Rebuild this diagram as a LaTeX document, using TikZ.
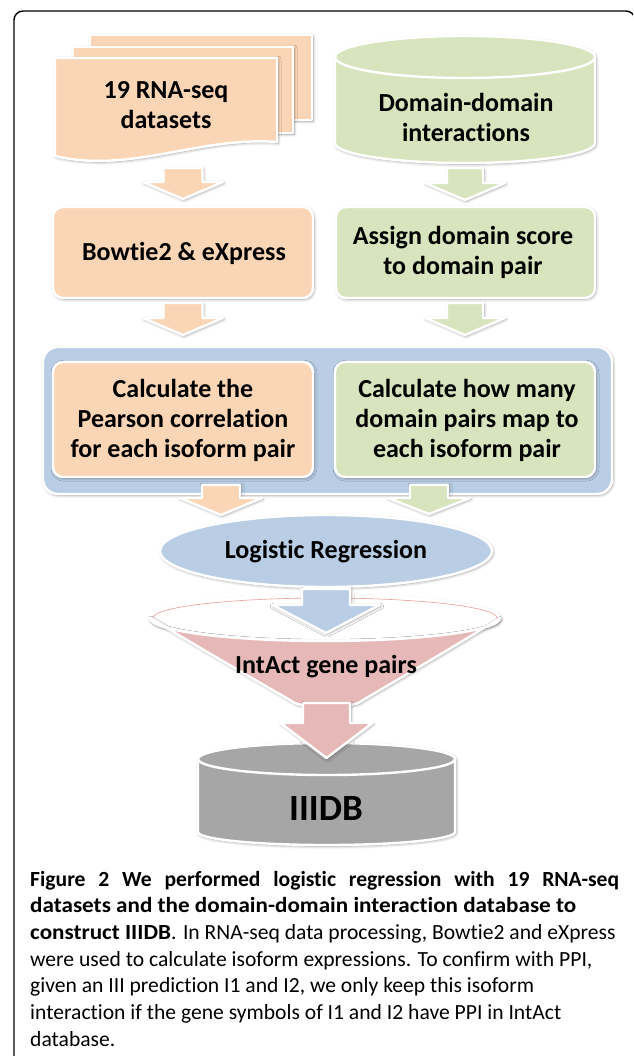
\documentclass[tikz,border=0pt]{standalone}
\usepackage{fontspec}
\setmainfont[Ligatures=NoCommon]{Carlito}
\usetikzlibrary{shadows.blur,shapes.geometric}
\definecolor{cOrange}{RGB}{251,214,182}
\definecolor{cGreen}{RGB}{216,228,189}
\definecolor{cBlue}{RGB}{185,205,229}
\definecolor{cPink}{RGB}{230,185,184}
\definecolor{cGray}{RGB}{166,166,166}
% colour, centre x, top y, head y, tip y, half shaft width, half head width
\newcommand\blockarrow[7]{%
  \draw[shp,fill=#1] ({#2-#6},#3) -- ({#2+#6},#3) -- ({#2+#6},#4) -- ({#2+#7},#4)
    -- (#2,#5) -- ({#2-#7},#4) -- ({#2-#6},#4) -- cycle;}
\newcommand\bcap[1]{\scalebox{1.07}[1]{\bfseries #1}}
\begin{document}
\begin{tikzpicture}[x=1pt,y=-1pt,
  softshadow/.style={blur shadow={shadow xshift=1pt,shadow yshift=-1.2pt,shadow blur radius=3pt,shadow blur steps=6,shadow opacity=40}},
  wline/.style={draw=white,line width=2.4pt,line join=round},
  shp/.style={wline,softshadow},
  lbl/.style={font=\fontsize{26}{30}\selectfont\bfseries,align=center,text=black},
  box/.style={shp,rectangle,rounded corners=10pt,inner sep=0pt},
  captxt/.style={anchor=base west,inner sep=0pt,font=\fontsize{21.6}{26.7}\selectfont}]
\useasboundingbox (0,0) rectangle (633,1056);
\begin{scope}
\clip (0,0) rectangle (633,1056);
\draw[line width=1.4pt,rounded corners=9pt] (14,11) rectangle (635,1085);
\end{scope}

% documents
\draw[shp,fill=cOrange] (90,35) rectangle (312,120);
\draw[shp,fill=cOrange] (73,47) rectangle (293,133);
\draw[shp,fill=cOrange] (55,58) -- (277,58) -- (277,142)
  .. controls (200,136) and (130,174) .. (55,156) -- cycle;
\node[lbl] (rnaseq) at (166,105) {19 RNA-seq\\datasets};

% green cylinder
\path[shp,fill=cGreen] (335,57) -- (335,143)
  arc[start angle=180,end angle=360,x radius=130pt,y radius=20pt] -- (595,57)
  arc[start angle=0,end angle=180,x radius=130pt,y radius=21pt] -- cycle;
\draw[wline] (335,57) arc[start angle=180,end angle=360,x radius=130pt,y radius=21pt];
\node[lbl] (ddi) at (466,117) {Domain-domain\\interactions};

% arrows row 1
\blockarrow{cOrange}{183}{168}{182}{199}{19.5}{40}
\blockarrow{cGreen}{465}{168}{183}{200}{18}{40}

% row 2
\node[box,fill=cOrange,minimum width=260pt,minimum height=91pt] (bowtie) at (183,252.5) {};
\node[lbl] (bowtietxt) at (184,253) {Bowtie2 \& eXpress};
\node[box,fill=cGreen,minimum width=259pt,minimum height=91pt] (assign) at (465.5,252.5) {};
\node[lbl] (assigntxt) at (463,252) {Assign domain score\\to domain pair};

% arrows row 2
\blockarrow{cOrange}{183}{303}{318}{335}{19.5}{40}
\blockarrow{cGreen}{465}{303}{318}{335}{18}{40}

% container
\node[box,fill=cBlue,rounded corners=15pt,minimum width=569pt,minimum height=147pt] (container) at (327.5,420.5) {};
\node[box,fill=cOrange,minimum width=260pt,minimum height=115pt] (calc1) at (183,419.5) {};
\node[lbl] (calc1txt) at (183,420) {Calculate the\\Pearson correlation\\for each isoform pair};
\node[box,fill=cGreen,minimum width=260pt,minimum height=115pt] (calc2) at (465,419.5) {};
\node[lbl] (calc2txt) at (467,420) {Calculate how many\\domain pairs map to\\each isoform pair};

% arrows row 3
\blockarrow{cOrange}{221}{485}{498}{515}{19}{41}
\blockarrow{cGreen}{429}{485}{498}{514}{19}{41}

% logistic regression
\node[shp,ellipse,fill=cBlue,minimum width=332pt,minimum height=72pt,inner sep=0pt] (logit) at (326,551) {};
\node[lbl] (logittxt) at (326,552) {Logistic Regression};

% funnel
\draw[shp,fill=white] (325,618) ellipse[x radius=175pt,y radius=23pt];
\draw[cPink!85!red,line width=0.6pt] (153,618) arc[start angle=180,end angle=0,x radius=172pt,y radius=20pt];
\path[shp,fill=cPink] (150,618) .. controls (200,648) and (262,684) .. (290,700)
  .. controls (295,704) and (300,705) .. (305,705) -- (348,705)
  .. controls (353,705) and (358,704) .. (363,700)
  .. controls (390,684) and (452,648) .. (500,618)
  arc[start angle=0,end angle=-180,x radius=175pt,y radius=23pt] -- cycle;
\node[lbl] (intact) at (326,667) {IntAct gene pairs};
\blockarrow{cBlue}{326}{589}{605}{633}{24}{53.5}

% IIIDB cylinder
\path[shp,fill=cGray] (198,759) -- (198,832)
  arc[start angle=180,end angle=360,x radius=128.5pt,y radius=13pt] -- (455,759)
  arc[start angle=0,end angle=180,x radius=128.5pt,y radius=16pt] -- cycle;
\draw[wline] (198,759) arc[start angle=180,end angle=360,x radius=128.5pt,y radius=16pt];
\node[font=\fontsize{37}{40}\selectfont\bfseries] (iiidb) at (326,808) {IIIDB};
\blockarrow{cPink}{326.5}{703}{723}{758}{23.5}{46}

% caption
\node[captxt] (c1) at (30,886) {\makebox[589pt][s]{\bfseries Figure 2 We performed logistic regression with 19 RNA-seq}};
\node[captxt] (c2) at (30,912.7) {\bcap{datasets and the domain-domain interaction database to}};
\node[captxt] (c3) at (30,939.4) {\bcap{construct IIIDB}. In RNA-seq data processing, Bowtie2 and eXpress};
\node[captxt] (c4) at (30,966.1) {were used to calculate isoform expressions. To confirm with PPI,};
\node[captxt] (c5) at (30,992.8) {given an III prediction I1 and I2, we only keep this isoform};
\node[captxt] (c6) at (30,1019.5) {interaction if the gene symbols of I1 and I2 have PPI in IntAct};
\node[captxt] (c7) at (30,1046.2) {database.};
\end{tikzpicture}
\end{document}
